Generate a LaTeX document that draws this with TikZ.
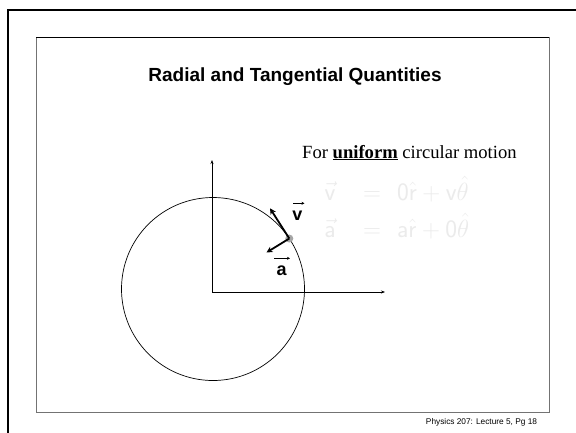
\documentclass[tikz,border=0pt]{standalone}
\usepackage{fontspec}
\setmainfont{Liberation Serif}
\newfontfamily\arial{Liberation Sans}
\usetikzlibrary{arrows.meta}
\begin{document}
\begin{tikzpicture}[x=1pt,y=-1pt,
  axis/.style={line width=0.6pt,-{Stealth[length=4pt,width=3pt]}},
  vecarrow/.style={line width=1.8pt,-{Stealth[length=6pt,width=6pt]}},
  lblarrow/.style={line width=0.7pt,-{Stealth[length=3pt,width=3pt]}},
  eqtext/.style={text=black!8,font=\fontsize{25}{28}\selectfont,inner sep=0pt,anchor=base},
  lbl/.style={font=\arial\bfseries\fontsize{18}{20}\selectfont,inner sep=0pt,anchor=base}]
\useasboundingbox (0,0) rectangle (576,432);
\fill[white] (0,0) rectangle (576,432);
% outer frame
\draw[line width=2.5pt] (8,440) -- (8,10) -- (580,10);
% inner frame
\draw[line width=1pt,black!55] (36,37) -- (36,412) -- (549,412) -- (549,37);
\draw[line width=0.8pt] (36,37) -- (549,37);
% title
\node[font=\arial\bfseries\fontsize{19}{22}\selectfont,anchor=base,inner sep=0pt] (title) at (295,81.7) {Radial and Tangential Quantities};
\node[font=\fontsize{18.6}{20}\selectfont,anchor=base west,inner sep=0pt] (for) at (302,158) {For \underline{\textbf{uniform}} circular motion};
% equations
\node[eqtext] (vl) at (330,200) {$\vec{\mathsf{v}}$};
\node[eqtext] (ve) at (372,200) {$=$};
\node[eqtext,anchor=base west] (vr) at (397,200) {$\mathsf{0}\hat{\mathsf{r}}+\mathsf{v}\hat{\theta}$};
\node[eqtext] (al) at (330,237) {$\vec{\mathsf{a}}$};
\node[eqtext] (ae) at (372,237) {$=$};
\node[eqtext,anchor=base west] (ar) at (397,237) {$\mathsf{a}\hat{\mathsf{r}}+\mathsf{0}\hat{\theta}$};
% circle and axes
\coordinate (O) at (212,292);
\coordinate (ytop) at (212,160);
\coordinate (xend) at (385,292);
\draw[line width=0.7pt] (213,289) circle (91.5);
\draw[axis] (O) -- (ytop);
\draw[axis] (O) -- (xend);
% particle
\fill[black!35] (289.3,238.5) circle (4);
\coordinate (P) at (289.3,238.5);
\coordinate (vtip) at (270,208.3);
\coordinate (atip) at (266.5,252.5);
\draw[vecarrow] (P) -- (vtip);
\draw[vecarrow] (P) -- (atip);
\node[lbl] (vlab) at (297.5,220) {v};
\node[lbl] (alab) at (281.7,275) {a};
\coordinate (varl) at (293,203.3);
\coordinate (varr) at (304.5,203.3);
\coordinate (aarl) at (274,258.3);
\coordinate (aarr) at (290,258.3);
\draw[lblarrow] (varl) -- (varr);
\draw[lblarrow] (aarl) -- (aarr);
% footer
\node[font=\arial\fontsize{8.3}{10}\selectfont] (foot) at (481.5,422) {Physics 207: Lecture 5, Pg 18};
\end{tikzpicture}
\end{document}
